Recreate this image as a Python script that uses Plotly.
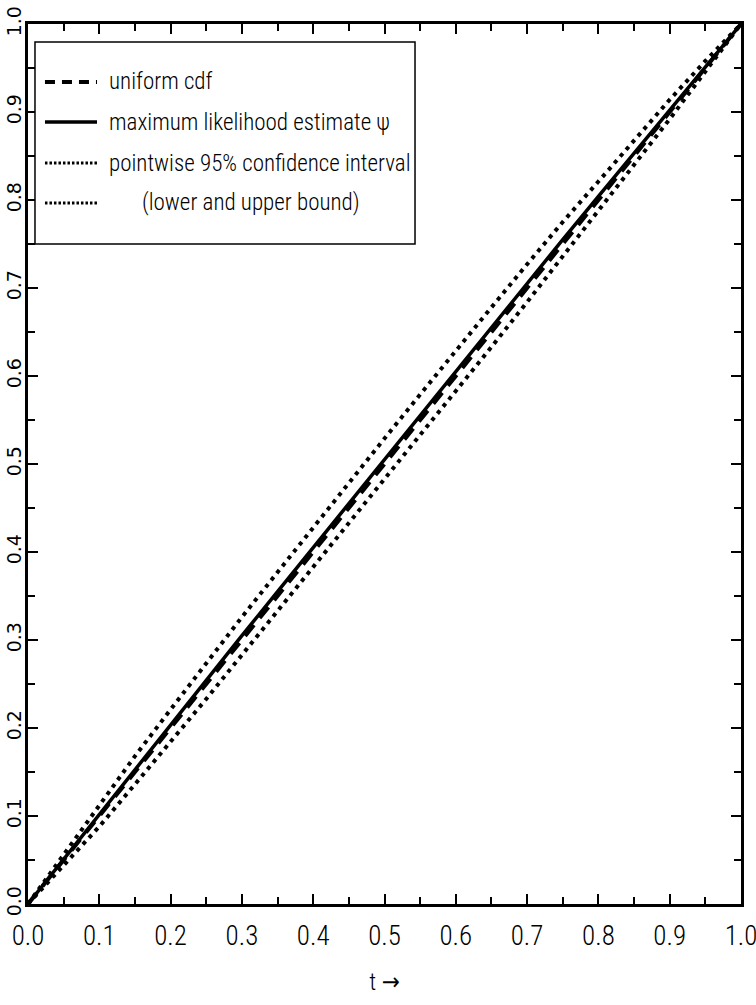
import plotly.graph_objects as go

# data
t = [0.00, 0.05, 0.10, 0.15, 0.20, 0.25, 0.30, 0.35, 0.40, 0.45, 0.50,
     0.55, 0.60, 0.65, 0.70, 0.75, 0.80, 0.85, 0.90, 0.95, 1.00]
uniform_cdf = [0.00, 0.05, 0.10, 0.15, 0.20, 0.25, 0.30, 0.35, 0.40, 0.45, 0.50,
               0.55, 0.60, 0.65, 0.70, 0.75, 0.80, 0.85, 0.90, 0.95, 1.00]
mle = [0.000, 0.051, 0.102, 0.153, 0.204, 0.255, 0.305, 0.355, 0.405, 0.455, 0.506,
       0.556, 0.606, 0.656, 0.705, 0.755, 0.804, 0.853, 0.902, 0.951, 1.000]
upper = [0.000, 0.056, 0.112, 0.168, 0.221, 0.274, 0.326, 0.377, 0.428, 0.478, 0.529,
         0.579, 0.629, 0.678, 0.727, 0.775, 0.821, 0.867, 0.914, 0.958, 1.000]
lower = [0.000, 0.044, 0.088, 0.136, 0.184, 0.233, 0.283, 0.333, 0.382, 0.432, 0.483,
         0.533, 0.583, 0.633, 0.684, 0.736, 0.789, 0.840, 0.892, 0.946, 1.000]

tick_vals = [0.0, 0.1, 0.2, 0.3, 0.4, 0.5, 0.6, 0.7, 0.8, 0.9, 1.0]
tick_text = ["0.0", "0.1", "0.2", "0.3", "0.4", "0.5", "0.6", "0.7", "0.8", "0.9", "1.0"]
legend_labels = ["uniform cdf", "maximum likelihood estimate ψ",
                 "pointwise 95% confidence interval", "(lower and upper bound)"]

NARROW = "Roboto Condensed, Liberation Sans Narrow, DejaVu Sans Condensed, sans-serif"
DOT = "4px,5px"
DASH = "14px,9px"

fig = go.Figure()
fig.add_trace(go.Scatter(x=t, y=uniform_cdf, mode="lines",
                         line=dict(color="black", width=4, dash=DASH)))
fig.add_trace(go.Scatter(x=t, y=mle, mode="lines",
                         line=dict(color="black", width=3.5)))
fig.add_trace(go.Scatter(x=t, y=upper, mode="lines",
                         line=dict(color="black", width=4, dash=DOT)))
fig.add_trace(go.Scatter(x=t, y=lower, mode="lines",
                         line=dict(color="black", width=4, dash=DOT)))

axis_common = dict(range=[0, 1], showgrid=False, zeroline=False, automargin=False,
                   showline=True, linecolor="black", linewidth=3, mirror="ticks",
                   ticks="inside", ticklen=10, tickwidth=1.5, tickcolor="black",
                   tickvals=tick_vals, ticktext=tick_text, ticklabeloverflow="allow",
                   minor=dict(ticks="inside", ticklen=7, tickwidth=1.5,
                              tickcolor="black", dtick=0.05, showgrid=False))

fig.update_xaxes(**axis_common, ticklabelstandoff=6,
                 tickfont=dict(family=NARROW, size=27, color="black", weight=300),
                 title=dict(text="t →", font=dict(family=NARROW, size=24, color="black",
                                                  weight=300),
                            standoff=22))
fig.update_yaxes(**axis_common, tickangle=-90, ticklabelstandoff=-4,
                 tickfont=dict(family="DejaVu Sans", size=19, color="black"))

# legend drawn manually to match the reference box
fig.add_shape(type="rect", xref="paper", yref="paper", x0=0.0098, x1=0.5428,
              y0=0.75, y1=0.9795, line=dict(color="black", width=1.5),
              fillcolor="white", layer="above")
rows_y = [0.9341, 0.8886, 0.8420, 0.7966]
styles = [dict(width=4, dash="10px,7px"), dict(width=3.5),
          dict(width=3, dash="2.5px,2px"), dict(width=3, dash="2.5px,2px")]
text_x = [0.1108, 0.1108, 0.1108, 0.157]
for ry, st, lab, tx in zip(rows_y, styles, legend_labels, text_x):
    fig.add_shape(type="line", xref="paper", yref="paper", x0=0.0238, x1=0.0968,
                  y0=ry, y1=ry, line=dict(color="black", **st), layer="above")
    fig.add_annotation(xref="paper", yref="paper", x=tx, y=ry, text=lab,
                       showarrow=False, xanchor="left", yanchor="middle",
                       font=dict(family=NARROW, size=23, color="black", weight=300))

fig.update_layout(width=756, height=1005, showlegend=False,
                  plot_bgcolor="white", paper_bgcolor="white",
                  margin=dict(l=28, r=15, t=24, b=101))

fig.write_html("out.html", config={"displayModeBar": False},
               post_script="document.body.style.margin='0';document.body.style.overflow='hidden';")
